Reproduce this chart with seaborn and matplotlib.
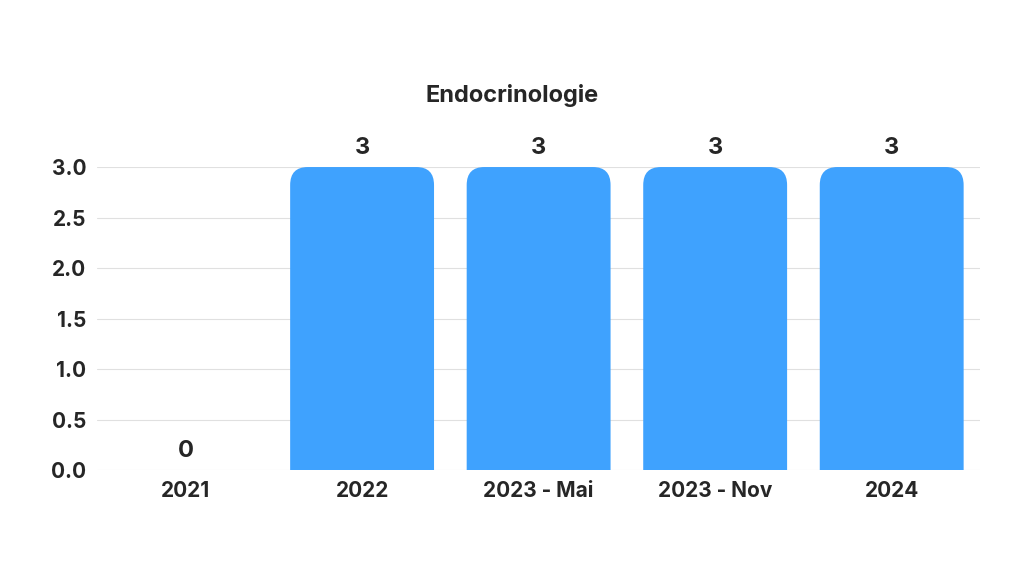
import matplotlib.pyplot as plt
import seaborn as sns
import pandas as pd
from matplotlib.patches import FancyBboxPatch

# ── DATA ──
categories = ["2021", "2022", "2023 - Mai", "2023 - Nov", "2024"]
values = [0, 3, 3, 3, 3]
title = "Endocrinologie"

sns.set_theme(style="white")
plt.rcParams["font.family"] = ["Inter", "DejaVu Sans"]
plt.rcParams["font.weight"] = "bold"

df = pd.DataFrame({"cat": categories, "val": values})
color = "#3fa2fe"

fig = plt.figure(figsize=(10.24, 5.76), dpi=100)
ax = fig.add_axes([0.095, 0.184, 0.862, 0.526])
sns.barplot(data=df, x="cat", y="val", color=color, width=0.815, ax=ax, saturation=1)

# swap the plain bars for ones with rounded tops
r = 0.1
for p in list(ax.patches):
    x, w, h = p.get_x(), p.get_width(), p.get_height()
    p.remove()
    if h <= 0:
        continue
    fb = FancyBboxPatch((x, -0.3), w, h + 0.3,
                        boxstyle=f"round,pad=0,rounding_size={r}",
                        mutation_aspect=1.78, fc=color, ec="none", clip_on=True)
    ax.add_patch(fb)

for i, v in enumerate(values):
    ax.text(i, v + 0.08, f"{v}", ha="center", va="bottom", fontsize=17, fontweight="bold")

ax.set_ylim(0, 3)
ax.set_xlim(-0.5, 4.5)
ax.set_yticks([0, 0.5, 1, 1.5, 2, 2.5, 3])
ax.set_yticklabels([f"{t:.1f}" for t in ax.get_yticks()])
ax.grid(axis="y", color="#e0e0e0", lw=0.8)
ax.set_axisbelow(True)
for s in ax.spines.values():
    s.set_visible(False)
ax.tick_params(axis="both", length=0, labelsize=15, pad=8)
for lab in ax.get_xticklabels() + ax.get_yticklabels():
    lab.set_fontweight("bold")
ax.set_xlabel("")
ax.set_ylabel("")

fig.text(0.5, 0.835, title, ha="center", va="center", fontsize=17, fontweight="bold")

fig.savefig("out.png", dpi=100, facecolor="white")
